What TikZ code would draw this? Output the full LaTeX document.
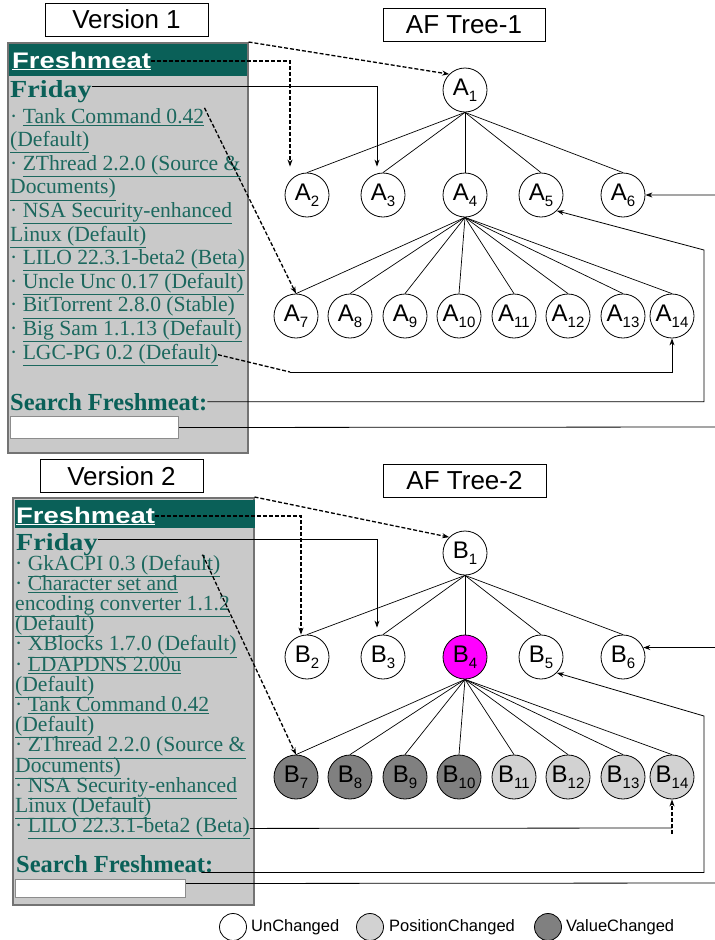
\documentclass[tikz,border=0pt]{standalone}
\usepackage{fontspec}
\setmainfont{Liberation Serif}
\setsansfont{Liberation Sans}
\usepackage{graphicx}
\usepackage{xcolor}
\usetikzlibrary{arrows.meta,positioning,calc}
\definecolor{panelgray}{RGB}{201,201,201}
\definecolor{fmteal}{RGB}{10,96,88}
\definecolor{linkteal}{RGB}{28,104,94}
\definecolor{poschg}{RGB}{210,210,210}
\definecolor{valchg}{RGB}{128,128,128}
\definecolor{hotpink}{RGB}{255,0,255}
\newcommand{\lnk}[1]{\underline{#1}}
\newcommand{\nd}[2]{#1\raisebox{-6pt}{\fontsize{15}{15}\selectfont #2}}

\begin{document}
\begin{tikzpicture}[x=1pt, y=-1pt,
    font=\sffamily,
    >={Stealth[length=7pt,width=5pt]},
    tnode/.style={circle, draw, line width=0.8pt, fill=white, minimum size=44pt, inner sep=0pt, font=\sffamily\fontsize{24}{24}\selectfont},
    posnode/.style={tnode, fill=poschg},
    valnode/.style={tnode, fill=valchg},
    hotnode/.style={tnode, fill=hotpink},
    keynode/.style={circle, draw, line width=0.8pt, fill=white, minimum size=27pt, inner sep=0pt},
    keytext/.style={anchor=west, inner sep=0pt, font=\sffamily\fontsize{16.5}{18}\selectfont},
    titlebox/.style={draw, line width=0.9pt, fill=white, inner sep=0pt, minimum height=33pt, font=\sffamily\fontsize{26}{28}\selectfont},
    panel/.style={draw=black!55, line width=1.5pt, fill=panelgray, anchor=north west, inner sep=0pt},
    header/.style={fill=fmteal, anchor=north west, inner sep=0pt},
    brand/.style={anchor=base west, inner sep=0pt, text=white, font=\sffamily\bfseries\fontsize{22.5}{24}\selectfont},
    linktext/.style={anchor=base west, inner sep=0pt, text=linkteal, font=\rmfamily\fontsize{21.6}{24}\selectfont},
    headtext/.style={anchor=base west, inner sep=0pt, text=fmteal, font=\rmfamily\bfseries\fontsize{24.5}{26}\selectfont},
    inbox/.style={draw=black!45, line width=1pt, fill=white, anchor=north west, inner sep=0pt},
    treeline/.style={line width=0.7pt},
    conn/.style={line width=0.8pt},
    dconn/.style={line width=1.3pt, dash pattern=on 4pt off 2pt}
  ]
    \useasboundingbox (0,0) rectangle (715,940);
    \clip (0,0) rectangle (715,940);

    \node[titlebox, minimum width=163] (ver1) at (126.5,19.5) {Version 1};
    \node[titlebox, minimum width=162] (ttl1) at (464,25) {AF Tree-1};
    \node[titlebox, minimum width=163] (ver2) at (121.5,476) {Version 2};
    \node[titlebox, minimum width=163] (ttl2) at (464.5,481) {AF Tree-2};

    \node[panel, minimum width=240, minimum height=410] (page1) at (7,42) {};
    \node[header, minimum width=238, minimum height=32] (bar1) at (9,44) {};
    \node[brand] (fm1) at (12,68) {\underline{\scalebox{1.22}[1]{Freshmeat}}};
    \node[headtext] (fri1) at (10,97) {\scalebox{1.15}[1]{Friday}};
    \foreach \t [count=\i] in {%
        {· \lnk{Tank Command 0.42}},
        {\lnk{(Default)}},
        {· \lnk{ZThread 2.2.0 (Source \&}},
        {\lnk{Documents)}},
        {· \lnk{NSA Security-enhanced}},
        {\lnk{Linux (Default)}},
        {· \lnk{LILO 22.3.1-beta2 (Beta)}},
        {· \lnk{Uncle Unc 0.17 (Default)}},
        {· \lnk{BitTorrent 2.8.0 (Stable)}},
        {· \lnk{Big Sam 1.1.13 (Default)}},
        {· \lnk{LGC-PG 0.2 (Default)}}} {
        \node[linktext] (l1-\i) at (10,{123+23.6*(\i-1)}) {\t};
    }
    \node[headtext] (srch1) at (10,410) {Search Freshmeat:};
    \node[inbox, minimum width=168, minimum height=22] (in1) at (10,416) {};

    \node[panel, minimum width=241, minimum height=407] (page2) at (12,497) {};
    \node[header, minimum width=240, minimum height=28] (bar2) at (15,500) {};
    \node[brand] (fm2) at (16,523) {\underline{\scalebox{1.22}[1]{Freshmeat}}};
    \node[headtext] (fri2) at (16,550) {\scalebox{1.15}[1]{Friday}};
    \foreach \t [count=\i] in {%
        {· \lnk{GkACPI 0.3 (Default)}},
        {· \lnk{Character set and}},
        {\lnk{encoding converter 1.1.2}},
        {\lnk{(Default)}},
        {· \lnk{XBlocks 1.7.0 (Default)}},
        {· \lnk{LDAPDNS 2.00u}},
        {\lnk{(Default)}},
        {· \lnk{Tank Command 0.42}},
        {\lnk{(Default)}},
        {· \lnk{ZThread 2.2.0 (Source \&}},
        {\lnk{Documents)}},
        {· \lnk{NSA Security-enhanced}},
        {\lnk{Linux (Default)}},
        {· \lnk{LILO 22.3.1-beta2 (Beta)}}} {
        \node[linktext] (l2-\i) at (15,{570+20.2*(\i-1)}) {\t};
    }
    \node[headtext] (srch2) at (16,872) {Search Freshmeat:};
    \node[inbox, minimum width=170, minimum height=18] (in2) at (15,879) {};

    \node[tnode] (A1) at (465,90) {\nd{A}{1}};
    \foreach \i/\x in {2/307,3/383,4/465,5/541,6/623} {
        \node[tnode] (A\i) at (\x,195) {\nd{A}{\i}};
        \draw[treeline] (A1.south) -- (A\i.north);
    }
    \foreach \i/\x in {7/296,8/350,9/405,10/459,11/514,12/568,13/623,14/672} {
        \node[tnode] (A\i) at (\x,316) {\nd{A}{\i}};
        \draw[treeline] (A4.south) -- (A\i.north);
    }

    \node[tnode] (B1) at (465,553) {\nd{B}{1}};
    \foreach \i/\x/\s in {2/307/tnode,3/383/tnode,4/465/hotnode,5/541/tnode,6/623/tnode} {
        \node[\s] (B\i) at (\x,657) {\nd{B}{\i}};
        \draw[treeline] (B1.south) -- (B\i.north);
    }
    \foreach \i/\x/\s in {7/296/valnode,8/350/valnode,9/405/valnode,10/459/valnode,11/514/posnode,12/568/posnode,13/623/posnode,14/672/posnode} {
        \node[\s] (B\i) at (\x,777) {\nd{B}{\i}};
        \draw[treeline] (B4.south) -- (B\i.north);
    }

    \draw[dconn,->] (page1.north east) -- (A1.north west);
    \draw[dconn,->] (fm1.east) -| ([xshift=-17pt,yshift=6pt]A2.north);
    \draw[conn,->] ([yshift=5pt]fri1.east) -| ([xshift=-6pt,yshift=6pt]A3.north);
    \draw[dconn,->] (l1-1.north east) -- (A7.north);
    \coordinate (bend1) at (290,372);
    \draw[dconn] (l1-11.east) -- (bend1);
    \draw[conn,->] (bend1) -| (A14.south);
    \coordinate (turn1) at (704,250);
    \draw[conn,->] (srch1.east) -| (turn1) -- (A5.south east);
    \coordinate (off1) at (722,427);
    \draw[conn,->] (in1.east) -- (off1) |- (A6.east);

    \draw[dconn,->] (page2.north east) -- (B1.north west);
    \draw[dconn,->] (fm2.east) -| ([xshift=-6pt]B2.north);
    \draw[conn,->] ([yshift=5pt]fri2.east) -| ([xshift=-6pt,yshift=7pt]B3.north);
    \draw[dconn,->] ([xshift=-18pt]l2-1.north east) -- (B7.north);
    \coordinate (bend2) at (672,828);
    \coordinate (foot2) at (672,834);
    \draw[conn] (l2-14.east) -- (bend2);
    \draw[dconn,->] (foot2) -- (B14.south);
    \coordinate (turn2) at (704,716);
    \draw[conn,->] ([xshift=-12pt]srch2.south east) -| (turn2) -- (B5.south east);
    \coordinate (off2) at (722,883);
    \draw[conn,->] ([yshift=5pt]in2.east) -- (off2) |- (B6.25);

    \node[keynode] (k1) at (233,927) {};
    \node[keytext] (kt1) at (251,927) {UnChanged};
    \node[keynode, fill=poschg] (k2) at (370,927) {};
    \node[keytext] (kt2) at (389,927) {PositionChanged};
    \node[keynode, fill=valchg] (k3) at (548,927) {};
    \node[keytext] (kt3) at (566,927) {ValueChanged};
\end{tikzpicture}
\end{document}
